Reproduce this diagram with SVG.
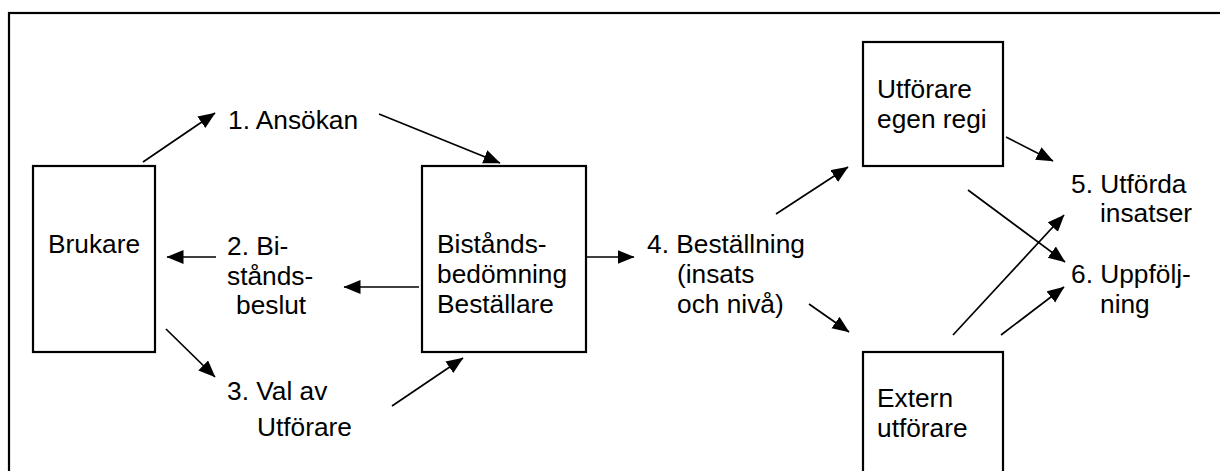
<svg xmlns="http://www.w3.org/2000/svg" width="1220" height="471" viewBox="0 0 1220 471">
<style>
.box{fill:#fff;stroke:#000;stroke-width:2.2}
.t{font-family:"Liberation Sans",Arial,sans-serif;font-size:26.3px;fill:#000}
.c{stroke:#000;stroke-width:1.7;fill:none;marker-end:url(#ah)}
</style>
<defs>
<marker id="ah" markerUnits="userSpaceOnUse" markerWidth="18" markerHeight="15" refX="16.5" refY="7" orient="auto">
<path d="M0,0 L17,7 L0,14 z" fill="#000"/>
</marker>
</defs>
<rect x="0" y="0" width="1220" height="471" fill="#fff"/>
<rect id="frame" x="9" y="13" width="1230" height="480" fill="none" stroke="#000" stroke-width="2.2"/>
<g id="connectors">
<line class="c" x1="143" y1="162" x2="215" y2="113"/>
<line class="c" x1="379" y1="114" x2="500" y2="163"/>
<line class="c" x1="419" y1="287" x2="344" y2="287"/>
<line class="c" x1="216" y1="257" x2="167" y2="257"/>
<line class="c" x1="166" y1="329" x2="215" y2="377"/>
<line class="c" x1="392" y1="406" x2="463" y2="358"/>
<line class="c" x1="587" y1="257" x2="634" y2="257"/>
<line class="c" x1="776" y1="214" x2="848" y2="167"/>
<line class="c" x1="809" y1="304" x2="849" y2="332"/>
<line class="c" x1="1006" y1="137" x2="1053" y2="161"/>
<line class="c" x1="968" y1="190" x2="1065" y2="262"/>
<line class="c" x1="953" y1="335" x2="1064" y2="215"/>
<line class="c" x1="1001" y1="335" x2="1064" y2="287"/>
</g>
<g id="brukare">
<rect class="box" x="33" y="166" width="122" height="186"/>
<text class="t" x="48" y="253">Brukare</text>
</g>
<g id="bistand">
<rect class="box" x="422" y="166" width="164" height="186"/>
<text class="t" x="437" y="253">Bistånds-</text>
<text class="t" x="437" y="283">bedömning</text>
<text class="t" x="437" y="313">Beställare</text>
</g>
<g id="egenregi">
<rect class="box" x="863" y="42" width="140" height="124"/>
<text class="t" x="877" y="98">Utförare</text>
<text class="t" x="877" y="128">egen regi</text>
</g>
<g id="extern">
<rect class="box" x="863" y="352" width="140" height="140"/>
<text class="t" x="877" y="407">Extern</text>
<text class="t" x="877" y="437">utförare</text>
</g>
<g id="labels">
<text class="t" x="228" y="129">1. Ansökan</text>
<text class="t" x="227" y="255">2. Bi-</text>
<text class="t" x="227" y="284.5">stånds-</text>
<text class="t" x="236" y="314">beslut</text>
<text class="t" x="227" y="400">3. Val av</text>
<text class="t" x="257" y="436">Utförare</text>
<text class="t" x="647" y="253">4. Beställning</text>
<text class="t" x="677" y="283">(insats</text>
<text class="t" x="677" y="313">och nivå)</text>
<text class="t" x="1071" y="193">5. Utförda</text>
<text class="t" x="1100" y="222">insatser</text>
<text class="t" x="1071" y="283">6. Uppfölj-</text>
<text class="t" x="1100" y="313">ning</text>
</g>
</svg>
